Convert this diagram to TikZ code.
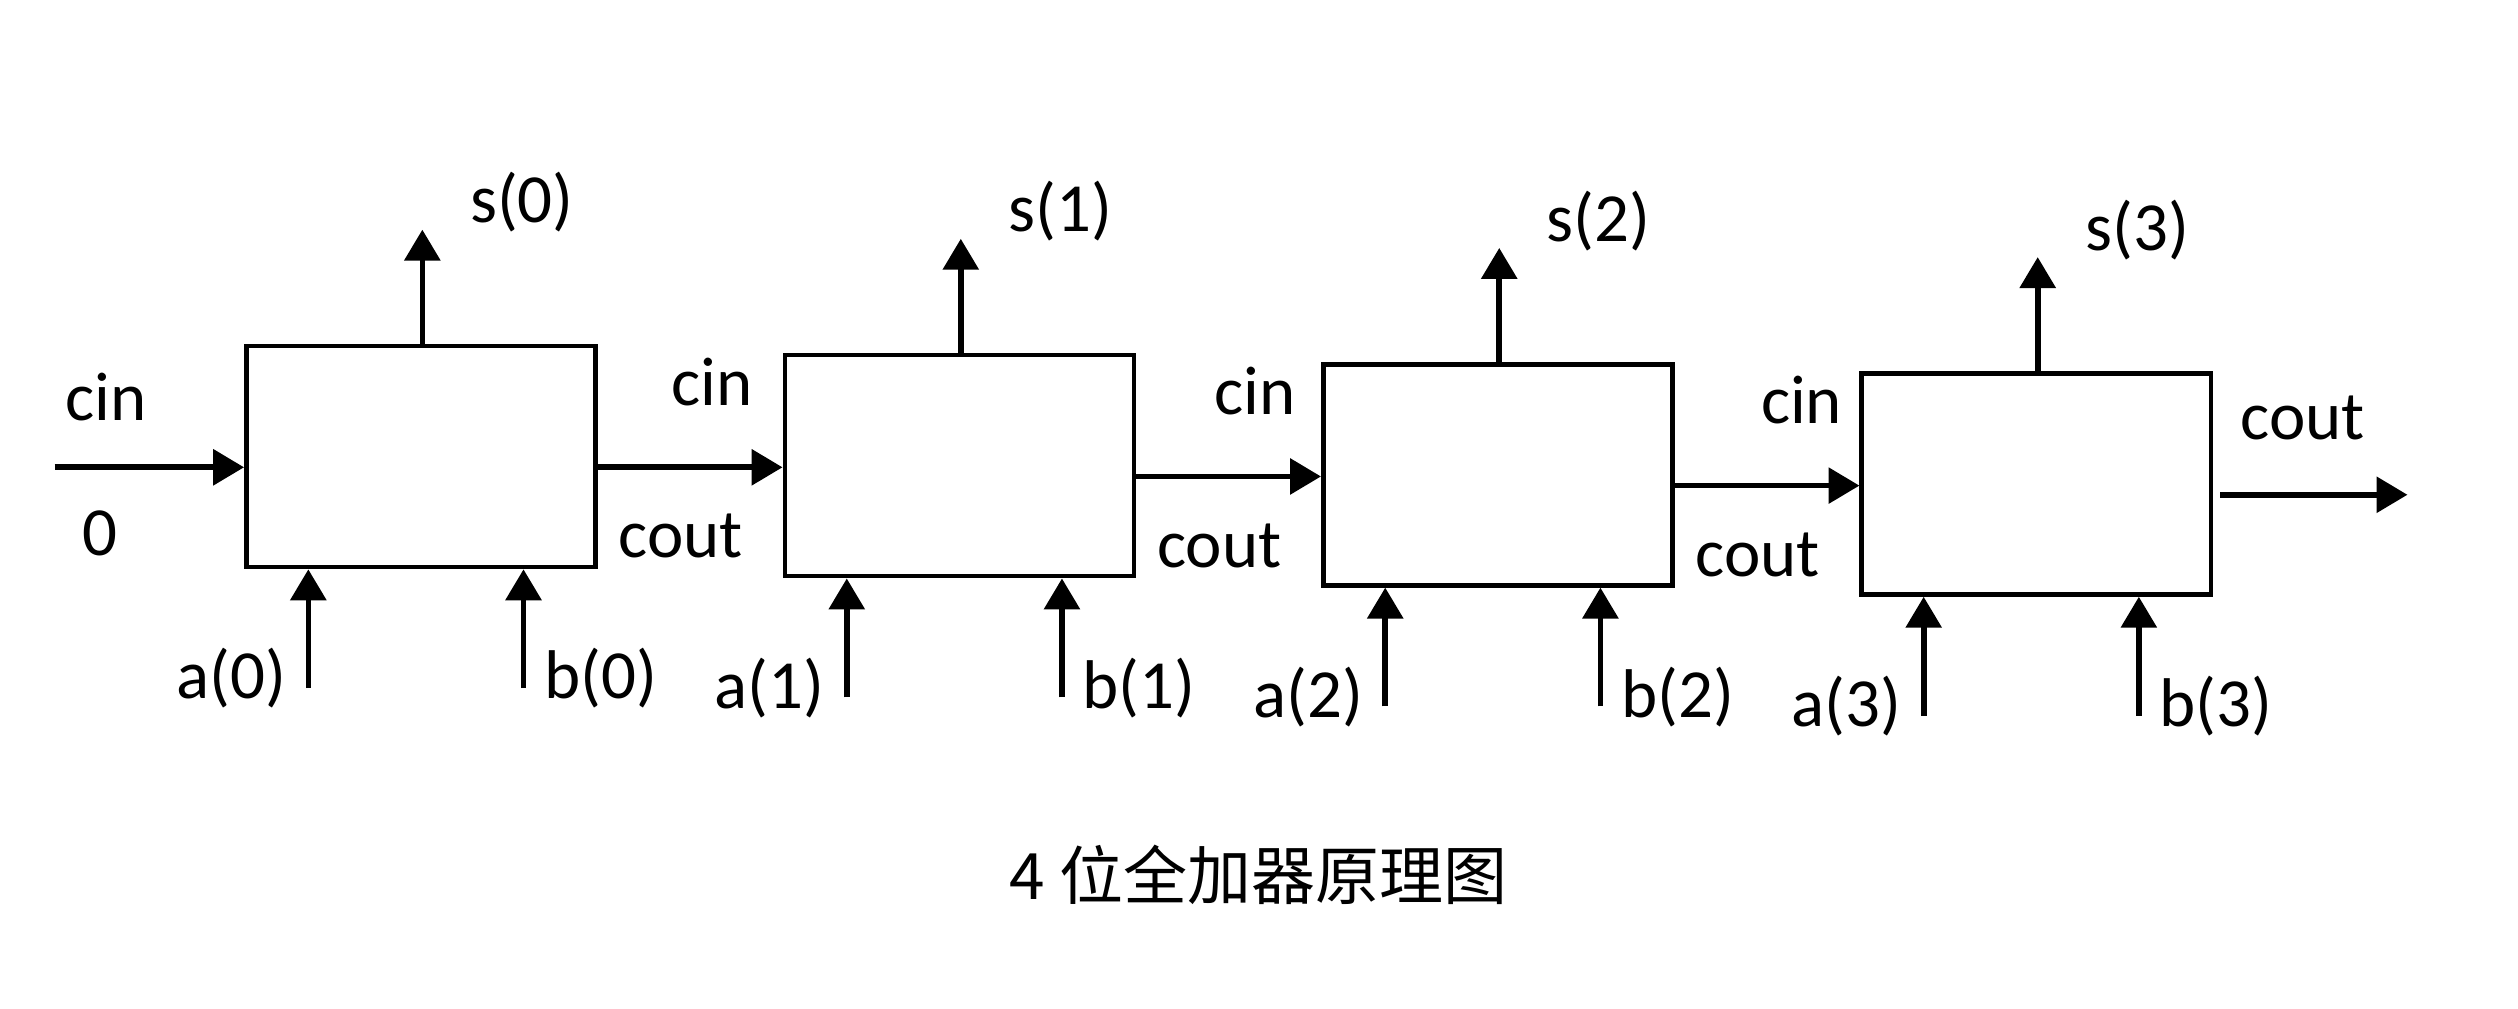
\documentclass[tikz,border=0pt]{standalone}
\usepackage{fontspec}
\setmainfont{Carlito}
\newfontfamily\cjkfont{Noto Sans CJK SC}
\usetikzlibrary{arrows.meta,calc}

\tikzset{
  adder/.style={draw, line width=1.3pt, anchor=north west, minimum width=3.49cm, minimum height=2.21cm, inner sep=0pt},
  wire/.style={line width=1.6pt, -{Triangle[length=8.8pt,width=10pt]}},
  port/.style={inner sep=0pt, font=\fontsize{19.6}{23}\selectfont}
}

\begin{document}
\begin{tikzpicture}[x=0.016059cm, y=-0.016059cm]
    \useasboundingbox (0,0) rectangle (1568,628);

    % adder blocks with sum output and a/b inputs
    \foreach \i in {0,...,3} {
        \node[adder] (fa\i) at ({152+335.3*\i},{214+5.7*\i}) {};
        % sum output
        \coordinate (stip\i) at ($(fa\i.north west)+(111,-71)$);
        \draw[wire] (fa\i.north -| stip\i) -- (stip\i);
        \node[port] (ls\i) at ($(fa\i.north west)+(173,-88)$) {s(\i)};
        % a and b inputs
        \coordinate (ain\i) at ($(fa\i.south west)+(40,74)$);
        \coordinate (bin\i) at ($(fa\i.south west)+(174,74)$);
        \draw[wire] (ain\i) -- (ain\i |- fa\i.south);
        \draw[wire] (bin\i) -- (bin\i |- fa\i.south);
        \node[port] (la\i) at ($(fa\i.south west)+(-8,68)$) {a(\i)};
        \node[port] (lb\i) at ($(fa\i.south west)+(222,68)$) {b(\i)};
        % level of the carry output
        \coordinate (co\i) at ($(fa\i.north east)+(0,77)$);
    }

    % carry in of the first block
    \coordinate (cin) at ($(fa0.north west)+(-118,77)$);
    \draw[wire] (cin) -- (cin -| fa0.west);
    \node[port] (lcin0) at ($(fa0.north west)+(-86,33)$) {cin};
    \node[port] (lzero) at ($(fa0.north west)+(-90,118)$) {0};

    % carries between the blocks
    \foreach \i/\j/\dx in {0/1/-44,1/2/-41,2/3/-36} {
        \draw[wire] (co\i) -- (co\i -| fa\j.west);
        \node[port] (lcout\i) at ($(fa\i.north west)+(272,120)$) {cout};
        \node[port] (lcin\j) at ($(fa\j.north west)+(\dx,18)$) {cin};
    }

    % carry out of the last block
    \coordinate (cout) at ($(co3)+(121,0)$);
    \draw[wire] ([xshift=2pt]co3) -- (cout);
    \node[port] (lcout3) at ($(fa3.north west)+(276,29)$) {cout};

    % caption
    \node[inner sep=0pt, font=\cjkfont\fontsize{18.2}{22}\selectfont] (title) at (783.5,545) {4 位全加器原理图};
\end{tikzpicture}
\end{document}
